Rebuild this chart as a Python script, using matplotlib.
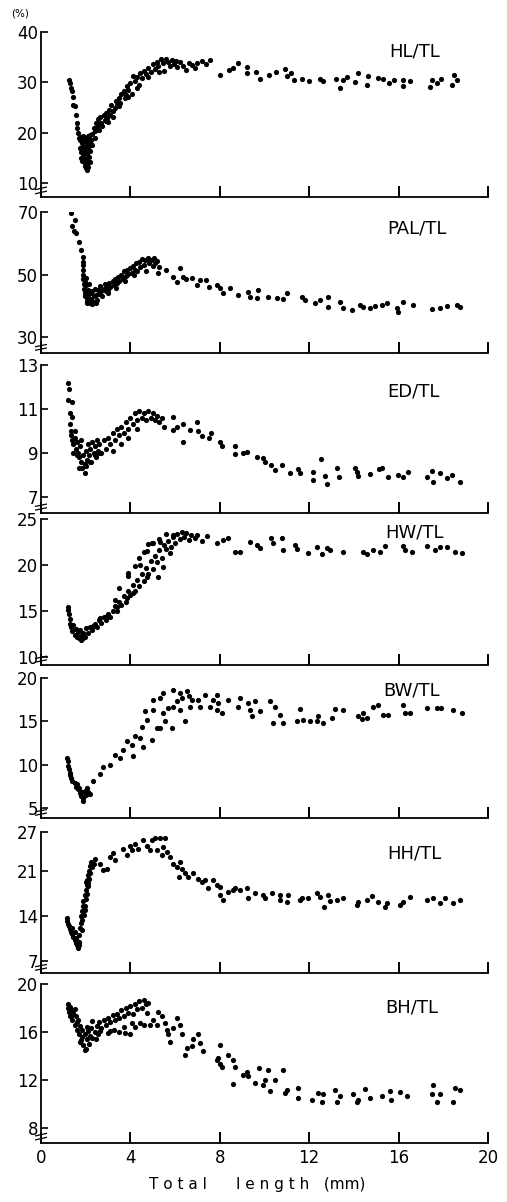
import numpy as np
import matplotlib
matplotlib.use("Agg")
import matplotlib.pyplot as plt

# (total length mm, ratio %)
hl_pts = [
    (1.25, 30.4), (1.3, 29.8), (1.35, 29.0), (1.38, 28.3), (1.42, 27.2), (1.45, 25.6), (1.5, 25.3),
    (1.55, 23.6), (1.6, 22.0), (1.62, 21.0), (1.66, 20.0),
    (1.7, 19.0), (1.75, 18.5), (1.8, 19.2), (1.85, 18.0), (1.9, 19.3), (1.95, 18.6), (2.0, 19.0),
    (2.05, 18.2), (2.1, 19.4), (2.15, 18.8), (2.2, 19.6), (2.25, 18.5),
    (1.75, 17.0), (1.8, 16.2), (1.85, 17.3), (1.9, 15.8), (1.95, 16.6), (2.0, 17.4), (2.05, 15.9),
    (2.1, 16.8), (2.15, 17.5), (2.2, 16.4), (2.3, 17.6),
    (1.8, 15.0), (1.85, 14.4), (1.9, 15.3), (1.95, 14.0), (2.0, 14.8), (2.05, 13.6), (2.1, 14.5),
    (2.15, 15.2), (2.2, 14.2), (2.0, 13.0), (2.05, 12.6), (2.1, 13.3), (1.95, 13.4),
    (2.3, 19.8), (2.35, 21.0), (2.4, 20.3), (2.45, 22.0), (2.5, 21.2), (2.55, 22.8), (2.6, 20.6),
    (2.65, 23.2), (2.7, 22.0), (2.75, 21.4), (2.8, 23.6), (2.85, 22.6), (2.9, 24.0), (2.95, 23.0),
    (3.0, 22.2), (3.05, 24.6), (3.1, 23.5), (3.15, 25.6), (3.2, 24.4), (3.3, 25.0), (3.35, 26.3),
    (3.4, 25.6), (3.5, 27.0), (3.55, 26.0), (3.6, 27.8), (3.7, 28.3), (3.75, 27.0), (3.8, 27.5),
    (3.85, 29.2), (3.9, 28.6), (4.0, 29.8), (4.05, 27.8), (4.1, 31.3), (4.2, 30.2), (4.3, 31.0),
    (4.4, 29.5), (4.45, 31.9), (4.5, 30.8), (4.6, 32.3), (4.7, 31.6), (4.8, 32.9), (4.9, 32.1),
    (5.0, 33.6), (5.1, 32.6), (5.2, 34.1), (5.25, 33.2), (5.35, 34.6), (5.45, 33.8), (5.5, 32.2),
    (5.6, 34.7), (5.7, 34.1), (5.75, 33.3), (5.85, 34.5), (5.95, 33.7), (6.05, 34.3), (6.1, 33.0),
    (6.2, 34.0), (6.35, 33.2), (6.5, 32.5), (6.6, 33.8), (6.75, 33.4), (6.9, 32.9), (7.0, 33.8),
    (7.2, 34.2), (7.4, 33.6), (7.55, 34.5),
    (2.2, 18.0), (2.4, 19.0), (2.6, 21.8), (2.9, 22.4), (3.2, 23.2), (3.5, 25.4), (3.9, 27.2),
    (4.3, 29.0), (4.8, 31.0), (5.3, 32.0),
    (8.0, 31.5), (8.4, 32.5), (8.6, 32.8), (8.8, 33.8), (9.2, 33.1), (9.2, 31.8), (9.6, 32.1),
    (9.8, 30.6), (10.2, 31.5), (10.5, 32.1), (10.9, 32.6), (11.0, 31.3), (11.2, 31.9), (11.3, 30.5),
    (11.7, 30.7), (12.0, 30.3), (12.5, 30.6), (12.6, 30.3), (13.2, 30.7), (13.4, 29.0), (13.5, 30.5),
    (13.7, 31.1), (14.05, 30.1), (14.2, 31.9), (14.6, 29.5), (14.65, 31.3), (15.1, 30.9), (15.3, 30.7),
    (15.55, 29.8), (15.8, 30.5), (16.2, 29.3), (16.2, 30.5), (16.5, 30.3), (17.4, 29.1), (17.5, 30.5),
    (17.7, 29.8), (17.9, 30.7), (18.4, 29.5), (18.5, 31.5), (18.6, 30.5),
]

pal_pts = [
    (1.34, 69.6), (1.52, 67.4), (1.37, 65.5), (1.48, 64.0), (1.57, 63.2), (1.72, 60.5), (1.79, 57.8),
    (1.86, 55.7), (1.9, 54.1),
    (1.88, 53.0), (1.88, 51.5), (1.9, 50.0), (1.9, 48.5), (1.92, 47.0), (1.93, 45.5), (1.95, 44.0),
    (1.97, 43.0), (2.0, 49.0), (2.0, 46.5), (2.02, 44.5), (2.05, 42.5), (2.08, 41.6), (2.1, 45.0),
    (2.12, 43.5), (2.15, 47.0), (2.2, 41.0), (2.22, 44.0), (2.25, 42.3), (2.3, 40.5), (2.35, 43.0),
    (2.38, 41.3), (2.4, 45.5), (2.45, 43.5), (2.5, 42.0), (2.55, 45.0), (2.6, 43.8), (2.65, 46.2),
    (2.7, 44.6), (2.8, 45.5), (2.85, 47.0), (2.9, 44.8), (2.95, 46.4), (3.0, 45.2), (3.05, 47.3),
    (3.1, 46.0), (3.2, 47.8), (3.25, 46.6), (3.3, 48.5), (3.4, 47.2), (3.45, 49.3), (3.5, 48.0),
    (3.6, 50.0), (3.65, 48.6), (3.7, 51.0), (3.8, 49.6), (3.85, 51.6), (3.9, 50.3), (4.0, 52.0),
    (4.05, 50.6), (4.1, 52.8), (4.2, 51.4), (4.25, 53.6), (4.3, 51.0), (4.4, 54.0), (4.45, 52.4),
    (4.5, 55.0), (4.6, 53.0), (4.65, 54.6), (4.7, 51.2), (4.8, 55.4), (4.85, 53.6), (4.9, 54.8),
    (5.0, 52.6), (5.05, 55.2), (5.1, 53.8), (5.2, 54.4), (5.25, 50.6),
    (1.95, 47.5), (2.05, 40.8), (2.15, 42.0), (2.3, 44.6), (2.45, 41.0), (2.75, 43.2), (3.0, 44.0),
    (3.35, 45.6), (3.75, 48.0), (4.15, 49.8),
    (5.3, 52.5), (5.6, 51.4), (5.9, 49.3), (6.2, 52.0), (6.07, 47.7), (6.37, 49.3), (6.5, 48.6),
    (6.74, 48.8), (6.96, 46.6), (7.1, 48.2), (7.4, 48.2), (7.5, 46.1), (7.86, 46.6), (8.0, 45.6),
    (8.16, 44.0), (8.46, 45.6), (8.83, 43.4), (9.28, 44.5), (9.35, 42.7), (9.72, 45.0), (9.65, 42.4),
    (10.17, 42.7), (10.54, 42.4), (10.99, 44.0), (10.84, 42.1), (11.66, 42.9), (11.81, 41.8),
    (12.26, 40.8), (12.48, 41.8), (12.86, 42.9), (12.86, 39.7), (13.38, 41.3), (13.53, 39.2),
    (13.9, 38.6), (14.27, 40.2), (14.42, 39.7), (14.72, 39.2), (14.94, 39.9), (15.24, 40.2),
    (15.47, 40.8), (15.91, 39.2), (15.99, 38.1), (16.21, 41.3), (16.66, 40.2), (17.48, 38.9),
    (17.85, 39.2), (18.15, 39.9), (18.6, 40.2), (18.75, 39.5),
]

ed_pts = [
    (1.19, 12.2), (1.27, 11.9), (1.22, 11.4), (1.37, 11.3), (1.3, 10.8), (1.37, 10.65),
    (1.3, 10.3), (1.32, 10.0), (1.35, 9.8), (1.4, 9.6), (1.45, 9.4), (1.5, 9.7), (1.55, 9.2),
    (1.6, 9.5), (1.65, 9.0), (1.7, 8.8), (1.75, 9.3), (1.8, 8.6), (1.85, 8.3), (1.9, 8.9),
    (1.95, 8.5), (2.0, 9.1), (2.05, 8.7), (2.1, 9.4), (2.15, 8.9), (2.2, 9.2), (2.25, 8.6),
    (2.3, 9.5), (2.35, 9.0), (2.4, 9.3), (2.45, 8.8), (2.5, 9.6), (2.55, 9.1), (2.6, 9.4),
    (2.7, 9.0), (2.8, 9.6), (2.9, 9.2), (3.0, 9.7), (3.1, 9.4), (3.2, 9.9), (3.3, 9.6), (3.4, 10.1),
    (3.5, 9.8), (3.6, 10.2), (3.7, 9.9), (3.8, 10.4), (3.9, 10.1), (4.0, 10.6), (4.1, 10.3),
    (4.2, 10.8), (4.3, 10.5), (4.4, 10.9), (4.5, 10.6), (4.6, 10.8), (4.7, 10.5), (4.8, 10.9),
    (4.9, 10.6), (5.0, 10.8), (5.1, 10.5), (5.2, 10.7), (5.3, 10.4), (5.4, 10.6), (5.5, 10.2),
    (1.7, 8.3), (1.95, 8.1), (3.2, 9.1), (3.6, 9.4), (3.9, 9.7), (4.3, 10.1), (1.5, 10.0),
    (1.6, 8.9), (1.8, 9.6), (2.0, 8.4), (2.2, 8.6), (2.4, 8.9), (2.6, 9.0), (1.45, 9.0),
    (5.92, 10.65), (5.92, 10.05), (6.07, 10.2), (6.37, 10.3), (6.37, 9.5), (6.67, 10.05),
    (6.96, 10.4), (7.04, 10.0), (7.2, 9.75), (7.5, 9.7), (7.6, 9.9), (8.0, 9.5), (8.1, 9.3),
    (8.68, 9.3), (8.68, 8.95), (9.05, 9.0), (9.2, 9.05), (9.65, 8.83), (9.95, 8.76), (10.02, 8.6),
    (10.27, 8.45), (10.47, 8.23), (10.77, 8.45), (11.14, 8.1), (11.51, 8.26), (11.59, 8.08),
    (12.19, 8.15), (12.19, 7.77), (12.53, 8.73), (12.71, 7.95), (12.78, 7.59), (13.23, 8.3),
    (13.35, 7.92), (14.05, 8.3), (14.12, 8.15), (14.2, 7.95), (14.72, 8.05), (15.14, 8.27),
    (15.24, 8.3), (15.54, 7.9), (15.99, 8.02), (16.21, 7.92), (16.44, 8.15), (17.26, 7.92),
    (17.48, 8.18), (17.55, 7.7), (17.85, 8.1), (18.15, 7.85), (18.37, 8.0), (18.75, 7.7),
]

hw_pts = [
    (1.22, 15.45), (1.22, 15.1), (1.25, 14.6), (1.28, 14.1), (1.3, 13.6), (1.35, 13.2), (1.4, 12.8),
    (1.45, 13.5), (1.5, 12.4), (1.55, 13.0), (1.6, 12.2), (1.65, 12.7), (1.7, 12.0), (1.75, 12.9),
    (1.79, 11.8), (1.8, 12.3), (1.85, 11.9), (1.9, 12.6), (1.95, 12.2), (2.0, 13.1), (2.1, 12.6),
    (2.2, 13.2), (2.3, 12.9), (2.34, 13.3), (2.4, 13.6), (2.5, 13.2), (2.6, 14.0), (2.64, 14.2),
    (2.7, 13.7), (2.8, 14.3), (2.9, 14.0), (2.94, 14.4), (3.0, 14.6), (3.1, 14.3), (3.2, 15.0),
    (3.31, 16.2), (3.3, 15.5), (3.39, 15.45), (3.4, 15.0), (3.5, 16.0), (3.6, 15.6), (3.7, 16.6),
    (3.8, 16.0), (3.83, 16.4), (3.9, 17.2), (3.9, 19.1), (4.0, 16.7), (4.1, 17.8), (4.13, 16.9),
    (4.2, 17.2), (4.3, 18.4), (4.4, 17.7), (4.43, 20.0), (4.5, 19.0), (4.6, 18.3), (4.7, 19.7),
    (4.73, 18.7), (4.73, 21.5), (4.8, 19.0), (4.9, 20.4), (4.95, 22.4), (5.0, 19.6), (5.1, 21.0),
    (5.2, 20.3), (5.25, 18.7), (5.3, 21.6), (5.32, 22.5), (5.4, 20.8), (5.47, 19.8), (5.5, 22.2),
    (5.6, 21.7), (5.7, 22.6), (5.77, 21.3), (5.8, 22.0), (5.9, 23.0), (5.92, 23.3), (6.0, 22.4),
    (6.1, 23.4), (6.2, 22.8), (6.3, 23.6), (6.4, 23.0), (6.5, 23.5), (6.6, 22.7), (6.7, 23.3),
    (6.9, 22.9), (7.0, 23.3), (7.2, 22.6), (3.5, 17.5), (3.9, 18.8), (4.2, 19.9), (4.4, 20.8),
    (4.6, 21.4), (4.8, 22.3), (5.0, 22.4), (5.3, 22.8), (5.6, 23.4),
    (7.41, 23.1), (7.86, 22.4), (8.16, 22.7), (8.38, 22.9), (8.68, 21.45), (8.9, 21.45),
    (9.35, 22.5), (9.65, 22.2), (9.8, 21.8), (10.28, 22.9), (10.4, 22.4), (10.77, 22.9),
    (10.84, 21.6), (11.36, 22.2), (11.44, 21.7), (11.96, 21.3), (12.34, 21.9), (12.56, 21.2),
    (12.78, 21.8), (12.93, 21.6), (13.53, 21.45), (14.42, 21.45), (14.57, 21.2), (14.87, 21.6),
    (15.17, 21.45), (15.39, 22.1), (16.21, 22.1), (16.28, 21.6), (16.58, 21.45), (17.26, 22.1),
    (17.63, 21.6), (17.85, 22.0), (18.15, 21.9), (18.52, 21.45), (18.82, 21.3),
]

bw_pts = [
    (1.15, 10.8), (1.2, 10.4), (1.22, 9.9), (1.25, 9.5), (1.28, 9.1), (1.3, 8.8), (1.35, 8.5),
    (1.4, 8.2), (1.5, 7.9), (1.55, 7.5), (1.6, 7.8), (1.65, 7.2), (1.7, 7.4), (1.75, 6.8),
    (1.8, 6.4), (1.85, 6.9), (1.89, 5.8), (1.9, 6.2), (1.95, 7.0), (2.0, 6.5), (2.05, 7.3),
    (2.1, 6.9), (2.19, 6.7), (2.34, 8.1), (2.64, 9.0), (2.79, 9.8), (3.09, 10.0), (3.31, 11.15),
    (3.53, 10.8), (3.68, 11.7), (3.83, 12.7), (4.06, 12.3), (4.13, 11.0), (4.2, 13.3), (4.43, 13.1),
    (4.5, 14.4), (4.58, 12.1), (4.65, 16.15), (4.73, 15.2), (4.95, 12.9), (5.03, 16.35),
    (5.03, 17.5), (5.18, 14.2), (5.32, 14.2), (5.32, 17.7), (5.47, 18.3), (5.47, 16.0), (5.55, 15.0),
    (5.7, 16.5), (5.85, 14.2), (5.92, 18.65), (5.92, 16.7), (6.07, 17.3), (6.22, 18.3),
    (6.22, 16.35), (6.29, 17.7), (6.44, 15.0), (6.52, 18.5), (6.6, 17.9), (6.67, 16.7), (6.74, 17.5),
    (7.04, 17.5), (7.11, 16.7), (7.34, 18.1), (7.56, 16.7), (7.71, 17.5), (7.86, 18.1),
    (7.86, 16.35), (7.93, 17.1), (8.08, 15.95), (8.38, 17.5), (8.83, 16.7), (8.9, 17.7),
    (9.28, 17.1), (9.35, 16.35), (9.43, 15.6), (9.58, 17.3), (9.8, 16.15), (10.24, 17.3),
    (10.47, 16.7), (10.4, 14.8), (10.69, 15.75), (10.84, 14.8), (11.44, 15.0), (11.59, 16.4),
    (11.74, 15.2), (12.04, 15.0), (12.34, 15.0), (12.41, 15.6), (12.63, 14.8), (13.0, 15.4),
    (13.15, 16.4), (13.53, 16.35), (14.2, 15.6), (14.35, 15.3), (14.42, 15.95), (14.57, 15.4),
    (14.87, 16.7), (15.09, 16.9), (15.32, 15.7), (15.54, 15.7), (16.21, 16.9), (16.28, 15.95),
    (16.5, 15.95), (17.26, 16.55), (17.7, 16.55), (17.9, 16.6), (18.45, 16.35), (18.82, 15.95),
]

hh_pts = [
    (1.15, 13.7), (1.18, 13.2), (1.2, 12.8), (1.25, 12.4), (1.3, 12.0), (1.35, 11.6), (1.4, 11.2),
    (1.45, 10.8), (1.5, 10.3), (1.55, 9.9), (1.6, 9.5), (1.65, 9.2), (1.67, 9.05), (1.62, 10.1),
    (1.5, 11.5), (1.4, 12.2), (1.7, 10.0), (1.72, 11.0), (1.75, 12.2), (1.78, 13.0), (1.8, 14.0),
    (1.82, 11.9), (1.85, 14.8), (1.88, 15.6), (1.9, 16.4), (1.95, 17.2), (1.97, 15.5), (2.0, 18.0),
    (2.05, 18.8), (2.08, 19.6), (2.1, 20.3), (2.12, 19.05), (2.15, 21.0), (2.2, 21.8), (2.25, 22.4),
    (2.27, 21.6), (2.42, 22.9), (1.95, 15.0), (2.0, 16.6), (2.05, 17.4), (2.1, 18.6), (2.15, 19.8),
    (1.58, 10.6), (1.7, 9.6), (1.85, 13.4), (1.92, 14.2), (2.0, 19.3), (2.2, 20.6), (2.35, 22.0),
    (2.64, 22.1), (2.79, 21.1), (2.94, 21.3), (3.09, 23.15), (3.24, 23.7), (3.31, 22.6),
    (3.68, 24.4), (3.83, 23.4), (3.98, 24.9), (4.06, 24.2), (4.2, 25.2), (4.35, 24.4), (4.58, 25.7),
    (4.73, 24.9), (4.88, 24.2), (4.95, 25.7), (5.1, 26.0), (5.18, 24.2), (5.32, 26.0), (5.4, 23.4),
    (5.47, 24.7), (5.55, 26.0), (5.62, 23.9), (5.77, 23.15), (5.92, 22.1), (6.07, 21.6),
    (6.22, 22.4), (6.29, 21.35), (6.16, 20.1), (6.44, 20.6), (6.59, 20.1), (6.81, 20.6),
    (7.04, 19.8), (7.19, 19.3), (7.34, 19.55), (7.49, 18.3), (7.71, 19.55), (7.86, 18.8),
    (8.0, 18.5), (8.0, 17.25), (8.16, 16.5), (8.38, 17.8), (8.6, 18.0), (8.68, 18.3), (8.9, 18.0),
    (9.2, 18.3), (9.28, 16.75), (9.58, 17.5), (9.95, 17.25), (10.02, 16.75), (10.32, 17.5),
    (10.69, 17.25), (10.69, 16.5), (11.07, 17.25), (10.99, 16.2), (11.59, 16.5), (11.66, 16.75),
    (11.96, 16.75), (12.34, 17.5), (12.49, 17.0), (12.64, 15.45), (12.86, 17.25), (12.93, 16.4),
    (13.23, 16.5), (13.53, 16.75), (14.12, 15.7), (14.2, 16.1), (14.57, 16.5), (14.8, 17.1),
    (15.1, 16.2), (15.39, 15.45), (15.47, 16.0), (16.06, 15.7), (16.21, 16.2), (16.5, 17.0),
    (17.26, 16.5), (17.55, 16.75), (17.85, 16.0), (18.08, 16.85), (18.45, 16.0), (18.75, 16.5),
]

bh_pts = [
    (1.19, 18.3), (1.2, 18.0), (1.25, 17.7), (1.3, 18.1), (1.3, 17.3), (1.35, 17.8), (1.4, 17.0),
    (1.45, 17.6), (1.5, 16.6), (1.55, 17.3), (1.6, 16.2), (1.65, 17.0), (1.7, 15.8), (1.75, 16.5),
    (1.8, 15.3), (1.85, 16.2), (1.9, 14.9), (1.95, 15.8), (1.97, 14.5), (2.0, 14.6), (2.05, 15.4),
    (2.1, 16.1), (2.15, 15.0), (2.2, 15.7), (2.25, 16.3), (2.3, 15.5), (2.4, 16.0), (2.5, 16.5),
    (2.55, 15.8), (2.6, 16.8), (2.7, 16.3), (2.8, 17.0), (2.9, 16.6), (3.0, 17.2), (3.1, 16.8),
    (3.2, 17.4), (3.3, 17.0), (3.4, 17.5), (3.5, 17.2), (3.6, 17.8), (3.7, 17.3), (3.8, 18.0),
    (3.9, 17.6), (4.0, 18.2), (4.1, 17.5), (4.2, 18.3), (4.3, 17.9), (4.4, 18.6), (4.5, 18.0),
    (4.6, 18.7), (4.7, 18.3), (4.8, 18.4), (2.3, 16.9), (2.45, 15.4), (3.0, 15.9), (3.25, 16.2),
    (3.5, 16.0), (3.7, 16.4), (4.0, 15.8), (4.2, 16.4), (4.6, 16.6),
    (1.35, 17.3), (1.5, 17.9), (1.6, 16.8), (1.75, 15.2), (1.85, 15.6), (2.05, 16.4),
    (2.64, 16.05), (3.09, 16.05), (3.76, 15.9), (4.06, 16.75), (4.43, 16.75), (4.73, 17.6),
    (4.88, 16.6), (5.03, 17.0), (5.18, 16.6), (5.25, 17.7), (5.4, 17.3), (5.55, 16.75), (5.62, 16.2),
    (5.7, 15.8), (5.77, 15.2), (5.92, 16.3), (6.07, 17.2), (6.22, 16.6), (6.29, 15.8), (6.44, 14.1),
    (6.52, 14.7), (6.74, 14.8), (6.81, 15.4), (7.04, 15.8), (7.11, 15.1), (7.26, 14.4), (8.0, 14.9),
    (7.88, 13.7), (7.94, 13.85), (8.0, 13.3), (8.08, 13.1), (8.38, 14.1), (8.6, 13.7), (8.68, 13.1),
    (8.6, 11.7), (9.05, 12.45), (9.2, 12.7), (9.28, 12.3), (9.58, 11.75), (9.77, 13.0), (9.95, 11.6),
    (10.02, 12.0), (10.17, 12.85), (10.24, 11.05), (10.47, 12.0), (10.84, 12.8), (10.92, 10.9),
    (10.99, 11.2), (11.48, 11.3), (11.51, 10.5), (12.11, 10.3), (12.41, 10.9), (12.56, 10.2),
    (12.6, 10.85), (13.15, 11.2), (13.23, 10.2), (13.38, 10.7), (13.97, 10.85), (14.12, 10.2),
    (14.2, 10.35), (14.5, 11.25), (14.72, 10.5), (15.24, 10.7), (15.6, 11.05), (15.68, 10.35),
    (16.06, 11.0), (16.36, 10.7), (17.48, 10.8), (17.55, 11.55), (17.7, 10.2), (17.85, 10.85),
    (18.42, 10.15), (18.52, 11.35), (18.75, 11.2),
]

names = ["HL/TL", "PAL/TL", "ED/TL", "HW/TL", "BW/TL", "HH/TL", "BH/TL"]
yticks = [[10, 20, 30, 40], [30, 50, 70], [7, 9, 11, 13], [10, 15, 20, 25],
          [5, 10, 15, 20], [7, 14, 21, 27], [8, 12, 16, 20]]
xticks = [0, 4, 8, 12, 16, 20]

# panel layout in pixels: (top px, bottom px, y at bottom, y at top, label x, label y)
W, H = 507, 1202
panels = [
    (32, 197, 7.3, 40, 0.78, 0.88),
    (212, 353, 24.9, 70, 0.775, 0.88),
    (365, 513, 6.27, 13, 0.775, 0.82),
    (519, 665, 9.1, 25, 0.77, 0.91),
    (678, 818, 3.9, 20, 0.765, 0.91),
    (832, 973, 5.2, 27, 0.775, 0.85),
    (984, 1143, 6.75, 20, 0.77, 0.855),
]
all_pts = [hl_pts, pal_pts, ed_pts, hw_pts, bw_pts, hh_pts, bh_pts]

fig = plt.figure(figsize=(W / 100, H / 100), dpi=100)
left, right = 41, 488

for i, (pts, name, yt, lay) in enumerate(zip(all_pts, names, yticks, panels)):
    top, bot, y0, y1, lx, ly = lay
    ax = fig.add_axes([left / W, 1 - bot / H, (right - left) / W, (bot - top) / H])
    xy = np.array(pts)
    ax.scatter(xy[:, 0], xy[:, 1], s=14, c="black", linewidths=0)
    ax.set_xlim(0, 20)
    ax.set_ylim(y0, y1)
    for s in ["top", "right"]:
        ax.spines[s].set_visible(False)
    ax.spines["left"].set_bounds(y0, y1)
    ax.spines["left"].set_linewidth(1.3)
    ax.spines["bottom"].set_linewidth(1.3)
    ax.set_yticks(yt)
    ax.tick_params(axis="y", direction="in", length=5, width=1.2, labelsize=12, pad=2)
    ax.set_xticks(xticks)
    ax.tick_params(axis="x", direction="in", length=8, width=1.4, labelsize=12, pad=4)
    if i < 6:
        ax.set_xticklabels([])
    ax.text(lx, ly, name, transform=ax.transAxes, fontsize=13, va="center", ha="left")
    # axis break mark at the bottom of the y axis
    ax.plot([-0.012, 0.012], [0.045, 0.06], color="black", lw=0.9, transform=ax.transAxes, clip_on=False)
    ax.plot([-0.012, 0.012], [0.02, 0.035], color="black", lw=0.9, transform=ax.transAxes, clip_on=False)

fig.text(20 / W, 1 - 14 / H, "(%)", fontsize=7.5, ha="center", va="center")
fig.text(257 / W, 1 - 1184 / H, "T o t a l      l e n g t h   (mm)", fontsize=11, ha="center", va="center")

fig.savefig("out.png", dpi=100)
